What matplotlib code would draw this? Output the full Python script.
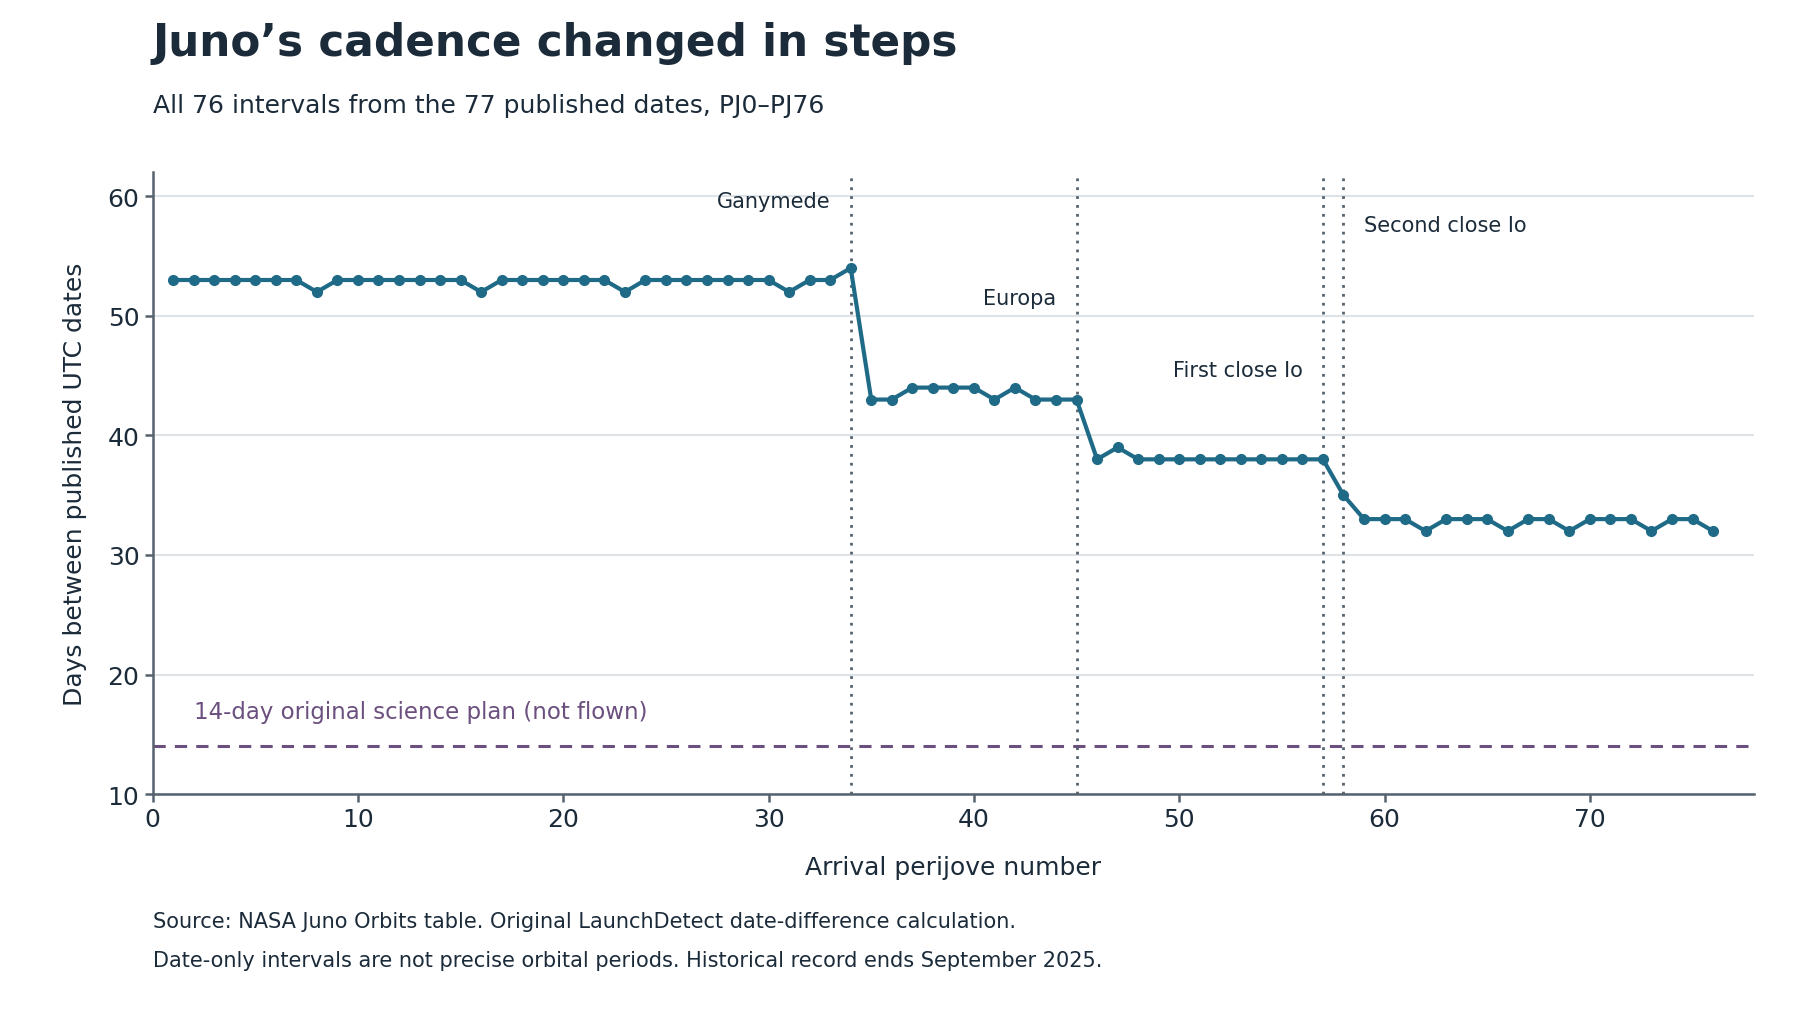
import numpy as np
import matplotlib
matplotlib.use("Agg")
import matplotlib.pyplot as plt

# arrival perijove number and days since previous published date
perijove = np.arange(1, 77)
interval_days = [
    53, 53, 53, 53, 53, 53, 53, 52, 53, 53,
    53, 53, 53, 53, 53, 52, 53, 53, 53, 53,
    53, 53, 52, 53, 53, 53, 53, 53, 53, 53,
    52, 53, 53, 54, 43, 43, 44, 44, 44, 44,
    43, 44, 43, 43, 43, 38, 39, 38, 38, 38,
    38, 38, 38, 38, 38, 38, 38, 35, 33, 33,
    33, 32, 33, 33, 33, 32, 33, 33, 32, 33,
    33, 33, 32, 33, 33, 32,
]

flyby_pj = [34, 45, 57, 58]
flyby_names = ["Ganymede", "Europa", "First close Io", "Second close Io"]
label_y = [59.6, 51.5, 45.5, 57.6]
label_side = ["left", "left", "left", "right"]

plan_days = 14
plan_label = "14-day original science plan (not flown)"

DARK = "#1b2b3a"
LINE = "#1f6b87"
PURPLE = "#6b4f7e"
SLATE = "#56636f"

fig = plt.figure(figsize=(18, 10.2), dpi=100)
ax = fig.add_axes([0.0848, 0.2205, 0.8897, 0.6095])

ax.plot(perijove, interval_days, color=LINE, lw=3, marker="o", ms=7, zorder=3)

ax.axhline(plan_days, color=PURPLE, lw=2.2, ls=(0, (4, 3)), zorder=2)
ax.text(2, plan_days + 2.9, plan_label, color=PURPLE, fontsize=16.5,
        ha="left", va="center")

for pj, name, y, side in zip(flyby_pj, flyby_names, label_y, label_side):
    ax.axvline(pj, color=SLATE, lw=2, ls=(0, (1, 2.2)), zorder=2)
    if side == "left":
        ax.text(pj - 1, y, name, color=DARK, fontsize=15, ha="right", va="center")
    else:
        ax.text(pj + 1, y, name, color=DARK, fontsize=15, ha="left", va="center")

ax.set_xlim(0, 78)
ax.set_ylim(10, 62)
ax.set_xticks(range(0, 71, 10))
ax.set_yticks(range(10, 61, 10))
ax.grid(axis="y", color="#dde3e6", lw=1.5)
ax.set_axisbelow(True)
for s in ["top", "right"]:
    ax.spines[s].set_visible(False)
for s in ["left", "bottom"]:
    ax.spines[s].set_color(SLATE)
    ax.spines[s].set_linewidth(1.8)
ax.tick_params(colors=SLATE, labelcolor=DARK, labelsize=18, width=1.8, length=6)

ax.set_xlabel("Arrival perijove number", fontsize=18, color=DARK, labelpad=17)
ax.set_ylabel("Days between published UTC dates", fontsize=18, color=DARK, labelpad=15)

fig.text(0.0848, 0.957, "Juno\u2019s cadence changed in steps", fontsize=31.5,
         fontweight="bold", color=DARK, ha="left", va="center")
fig.text(0.0848, 0.896, "All 76 intervals from the 77 published dates, PJ0\u2013PJ76",
         fontsize=18, color=DARK, ha="left", va="center")
fig.text(0.0848, 0.096,
         "Source: NASA Juno Orbits table. Original LaunchDetect date-difference calculation.",
         fontsize=15, color=DARK, ha="left", va="center")
fig.text(0.0848, 0.058,
         "Date-only intervals are not precise orbital periods. Historical record ends September 2025.",
         fontsize=15, color=DARK, ha="left", va="center")

fig.savefig("out.png", dpi=100)
